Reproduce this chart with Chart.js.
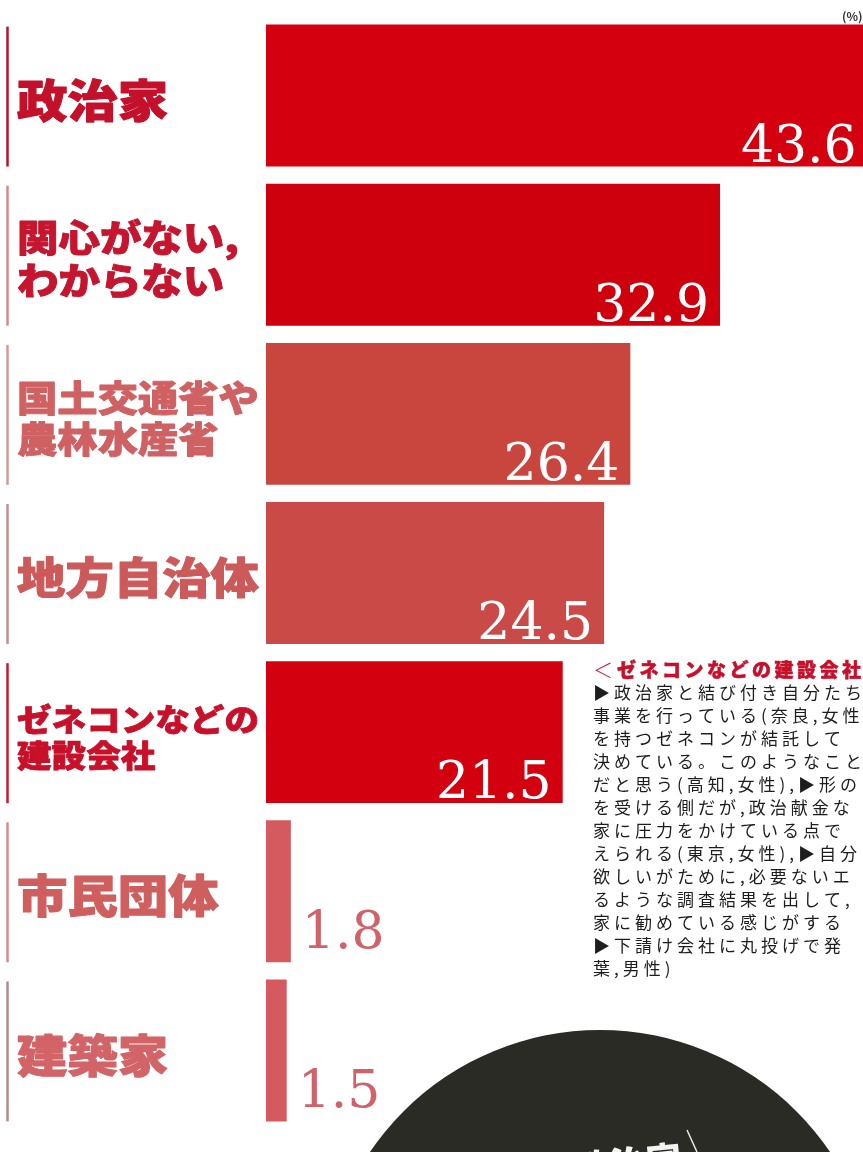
<!DOCTYPE html>
<html lang="ja">
<head>
<meta charset="utf-8">
<title>公共事業の決定に影響力を持つもの</title>
<script src="https://cdn.jsdelivr.net/npm/chart.js@4.4.1/dist/chart.umd.min.js"></script>
<style>
  html, body { margin: 0; padding: 0; background: #ffffff; overflow: hidden; }
  canvas { display: block; }
</style>
</head>
<body>
<canvas id="chart" width="863" height="1152"></canvas>
<script>
// ---- data ----
const categories = [
  ['政治家'],
  ['関心がない,', 'わからない'],
  ['国土交通省や', '農林水産省'],
  ['地方自治体'],
  ['ゼネコンなどの', '建設会社'],
  ['市民団体'],
  ['建築家']
];
const shares = [43.6, 32.9, 26.4, 24.5, 21.5, 1.8, 1.5];
const unitLabel = '(%)';

const noteMark = '＜';
const noteTitle = 'ゼネコンなどの建設会社';
const noteLines = [
  '▶政治家と結び付き自分たち',
  '事業を行っている(奈良,女性',
  'を持つゼネコンが結託して',
  '決めている。このようなこと',
  'だと思う(高知,女性),▶形の',
  'を受ける側だが,政治献金な',
  '家に圧力をかけている点で',
  'えられる(東京,女性),▶自分',
  '欲しいがために,必要ないエ',
  'るような調査結果を出して,',
  '家に勧めている感じがする',
  '▶下請け会社に丸投げで発',
  '葉,男性)'
];
const badgeText = '政治家';

// ---- styling ----
const barColors   = ['#d4000f', '#cf000e', '#c9463f', '#c94a46', '#d3000f', '#d45a60', '#d45a60'];
const labelColors = ['#c4112b', '#c5152f', '#cf6163', '#cc5a5b', '#c8102a', '#cf5f5f', '#d26468'];
const ruleColors  = ['#b9112a', '#d08a8c', '#d7989a', '#c98d8f', '#c21a30', '#d08d90', '#b58a8c'];
const smallValueColor = '#d0626a';
const CJK = '"Noto Sans CJK JP", "Noto Sans CJK SC", sans-serif';
const SERIF = '"DejaVu Serif", "Liberation Serif", serif';

function drawCategoryLabel(ctx, lines, top, bottom, color, ruleColor) {
  // thin vertical rule spanning the row
  ctx.save();
  ctx.strokeStyle = ruleColor;
  ctx.lineWidth = 2.5;
  ctx.beginPath();
  ctx.moveTo(7.5, top + 2);
  ctx.lineTo(7.5, bottom);
  ctx.stroke();
  ctx.restore();

  // heavy gothic, slightly widened
  const sx = 1.12;
  const maxW = 242;
  const cap = lines.length > 1 ? 37 : 45;
  ctx.save();
  ctx.font = `900 100px ${CJK}`;
  const w100 = Math.max(...lines.map(l => ctx.measureText(l).width));
  const size = Math.min(cap, maxW / (w100 / 100 * sx));
  const lh = size * 1.16;
  const cy = (top + bottom) / 2 + 5;
  ctx.font = `900 ${size}px ${CJK}`;
  ctx.fillStyle = color;
  ctx.strokeStyle = color;
  ctx.lineWidth = Math.max(0.8, size * 0.025);
  ctx.lineJoin = 'round';
  ctx.textBaseline = 'middle';
  ctx.textAlign = 'left';
  lines.forEach((line, i) => {
    const y = cy + (i - (lines.length - 1) / 2) * lh;
    ctx.save();
    ctx.translate(17, y);
    ctx.scale(sx, 1);
    ctx.fillText(line, 0, 0);
    ctx.strokeText(line, 0, 0);
    ctx.restore();
  });
  ctx.restore();
}

const pageArt = {
  id: 'pageArt',
  afterDatasetsDraw(chart) {
    const ctx = chart.ctx;
    const meta = chart.getDatasetMeta(0);
    meta.data.forEach((bar, i) => {
      const top = bar.y - bar.height / 2;
      const bottom = bar.y + bar.height / 2;
      drawCategoryLabel(ctx, categories[i], top, bottom, labelColors[i], ruleColors[i]);

      // value figure
      ctx.save();
      ctx.font = `52px ${SERIF}`;
      ctx.textBaseline = 'alphabetic';
      const text = shares[i].toFixed(1);
      if (bar.x - bar.base > 150) {
        ctx.fillStyle = '#ffffff';
        ctx.textAlign = 'right';
        ctx.fillText(text, bar.x - 11, bottom - 5);
      } else {
        ctx.fillStyle = smallValueColor;
        ctx.textAlign = 'left';
        ctx.fillText(text, bar.x + 11, bottom - 14);
      }
      ctx.restore();
    });
  },
  afterDraw(chart) {
    const ctx = chart.ctx;

    // unit
    ctx.save();
    ctx.font = `bold 12px ${CJK}`;
    ctx.fillStyle = '#333333';
    ctx.textBaseline = 'middle';
    ctx.textAlign = 'left';
    ctx.fillText(unitLabel, 842, 16);
    ctx.restore();

    // side note
    const x0 = 593;
    ctx.save();
    ctx.textBaseline = 'middle';
    ctx.textAlign = 'left';
    ctx.fillStyle = '#c8102a';
    ctx.font = `300 20px ${CJK}`;
    ctx.fillText(noteMark, x0, 670);
    ctx.font = `900 19px ${CJK}`;
    ctx.letterSpacing = '3.5px';
    ctx.strokeStyle = '#c8102a';
    ctx.lineWidth = 0.5;
    ctx.fillText(noteTitle, x0 + 24, 670);
    ctx.strokeText(noteTitle, x0 + 24, 670);
    ctx.fillStyle = '#1d1d1d';
    ctx.font = `17px ${CJK}`;
    ctx.letterSpacing = '4px';
    noteLines.forEach((line, i) => {
      ctx.fillText(line, x0, 693 + i * 23);
    });
    ctx.restore();

    // dark round badge at the foot of the page
    ctx.save();
    ctx.beginPath();
    ctx.arc(600, 1308, 278, 0, Math.PI * 2);
    ctx.fillStyle = '#2a2b25';
    ctx.fill();
    ctx.strokeStyle = '#e8e8e8';
    ctx.lineWidth = 1.5;
    ctx.beginPath();
    ctx.moveTo(687, 1130);
    ctx.lineTo(697, 1152);
    ctx.stroke();
    ctx.translate(680, 1140);
    ctx.rotate(-0.1);
    ctx.font = `900 36px ${CJK}`;
    ctx.fillStyle = '#f4f4f4';
    ctx.textAlign = 'right';
    ctx.textBaseline = 'top';
    ctx.fillText(badgeText, 0, 0);
    ctx.restore();
  }
};

new Chart(document.getElementById('chart'), {
  type: 'bar',
  data: {
    labels: categories,
    datasets: [{
      data: shares,
      backgroundColor: barColors,
      borderWidth: 0,
      barPercentage: 0.892,
      categoryPercentage: 1.0
    }]
  },
  options: {
    indexAxis: 'y',
    responsive: false,
    animation: false,
    devicePixelRatio: 1,
    layout: { padding: { left: 266, right: 0, top: 16, bottom: 22 } },
    scales: {
      x: { display: false, min: 0, max: 43.26 },
      y: { display: false, offset: true }
    },
    plugins: {
      legend: { display: false },
      tooltip: { enabled: false }
    }
  },
  plugins: [pageArt]
});
</script>
</body>
</html>
